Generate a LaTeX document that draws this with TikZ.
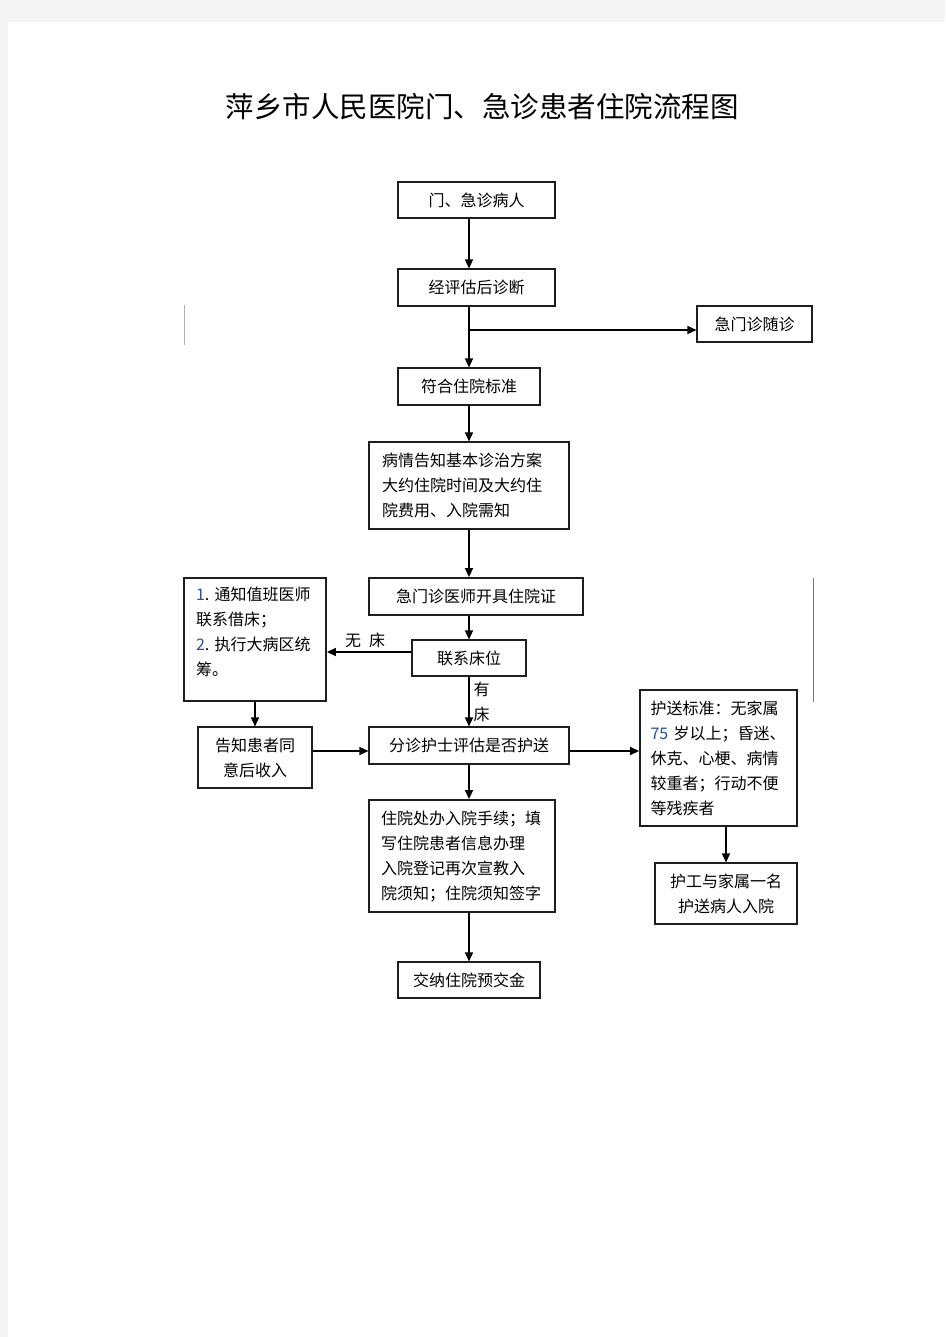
\documentclass[tikz,border=0pt]{standalone}
\usepackage{fontspec}
\setmainfont{Noto Sans CJK SC}
\usetikzlibrary{arrows.meta}
\definecolor{pageBg}{RGB}{244,244,244}
\definecolor{boxLine}{RGB}{30,30,30}
\definecolor{ruleGray}{RGB}{175,175,175}
\definecolor{ruleDark}{RGB}{120,120,120}
\definecolor{numBlue}{RGB}{40,80,150}
\newcommand{\nm}[1]{\textcolor{numBlue}{#1}}

\begin{document}
\begin{tikzpicture}[x=1pt,y=-1pt,font=\fontsize{16}{25}\selectfont,>={Triangle[length=9pt,width=8pt]},
  box/.style ={draw=boxLine,line width=1.1pt,inner sep=0pt,align=center},
  boxw/.style={box,line width=1.8pt},
  lbl/.style ={inner sep=0pt,align=left},
  fl/.style={->,line width=1.4pt}]
\useasboundingbox (0,0) rectangle (945,1337);
\fill[pageBg] (0,0) rectangle (945,1337);
\fill[white] (8,22) rectangle (945,1337);
\node[font=\fontsize{28.5}{30}\selectfont] (ttl) at (482,107) {萍乡市人民医院门、急诊患者住院流程图};
% main column
\node[box,minimum width=157,minimum height=36] (b1) at (476.5,200) {门、急诊病人};
\node[box,minimum width=157,minimum height=37] (b2) at (476.5,287.5) {经评估后诊断};
\node[box,minimum width=115,minimum height=36] (b3) at (754.5,324) {急门诊随诊};
\node[box,minimum width=142,minimum height=37] (b4) at (469,386.5) {符合住院标准};
\node[box,minimum width=200,minimum height=87,text width=174,align=left] (b5) at (469,485.5) {病情告知基本诊治方案\\大约住院时间及大约住\\院费用、入院需知};
\node[boxw,minimum width=214,minimum height=37] (b6) at (476,596.5) {急门诊医师开具住院证};
\node[box,minimum width=114,minimum height=36] (b7) at (469,658) {联系床位};
\node[boxw,minimum width=142,minimum height=123,text width=118,align=left] (b8) at (255,639.5) {\nm{1}.~通知值班医师\\联系借床；\\\nm{2}.~执行大病区统\\筹。\rule[-16pt]{0pt}{0pt}};
\node[box,minimum width=114,minimum height=61] (b9) at (255,757.5) {告知患者同\\意后收入};
\node[box,minimum width=200,minimum height=37] (b10) at (469,745.5) {分诊护士评估是否护送};
\node[boxw,minimum width=157,minimum height=136,text width=136,align=left] (b11) at (718.5,758) {护送标准：无家属\\\nm{75}~岁以上；昏迷、\\休克、心梗、病情\\较重者；行动不便\\等残疾者};
\node[box,minimum width=142,minimum height=61] (b12) at (726,893.5) {护工与家属一名\\护送病人入院};
\node[boxw,minimum width=186,minimum height=112,text width=162,align=left] (b13) at (462,856) {住院处办入院手续；填\\写住院患者信息办理\\入院登记再次宣教入\\院须知；住院须知签字};
\node[box,minimum width=142,minimum height=36] (b14) at (469,980) {交纳住院预交金};
% connectors
\coordinate (sp) at (469,0);
\coordinate (br) at (469,330);
\coordinate (row) at (0,751);
\draw[fl] (b1.south -| sp) -- (b2.north -| sp);
\draw[fl] (b2.south -| sp) -- (b4.north);
\draw[fl] (br) -- (br -| b3.west);
\draw[fl] (b4) -- (b5);
\draw[fl] (b5) -- (b6.north -| sp);
\draw[fl] (b6.south -| sp) -- (b7);
\draw[fl] (b7) -- node[lbl,right=4pt] {有\\床} (b10);
\draw[fl] ([yshift=6pt]b7.west) -- ([yshift=6pt]b7.west -| b8.east) node[lbl,midway,above=4pt,xshift=-4pt] {无\enspace 床};
\draw[fl] (b8) -- (b9);
\draw[fl] (b9.east |- row) -- (b10.west |- row);
\draw[fl] (b10.east |- row) -- (b11.west |- row);
\draw[fl] (b11.south -| b12.north) -- (b12);
\draw[fl] (b10) -- (b13.north -| sp);
\draw[fl] (b13.south -| sp) -- (b14);
% stray rules
\draw[ruleGray,line width=0.8pt] (184,305) -- (184,345);
\draw[ruleDark,line width=0.8pt] (813,578) -- (813,702);
\end{tikzpicture}
\end{document}
